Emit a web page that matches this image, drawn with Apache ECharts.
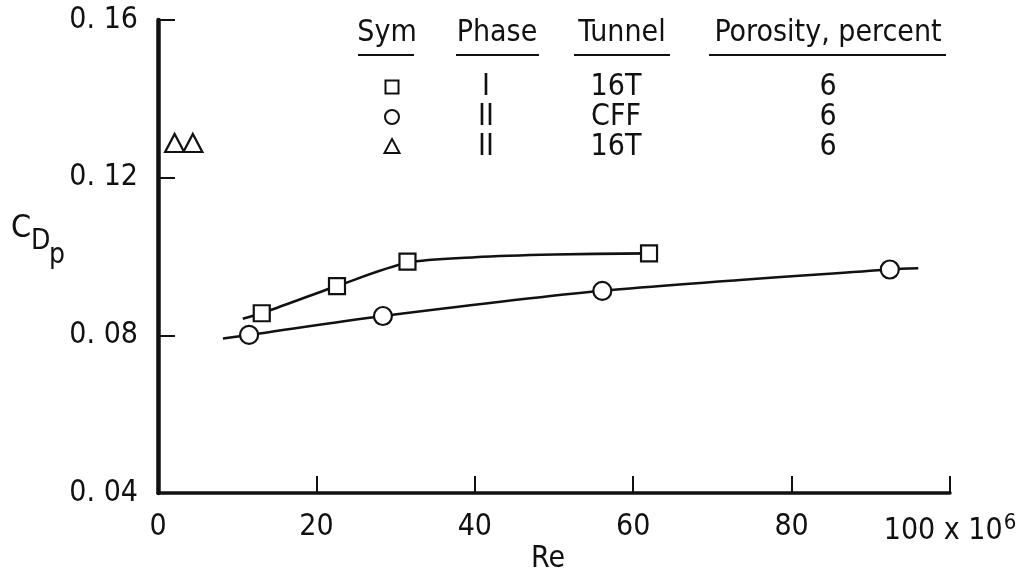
<!DOCTYPE html>
<html>
<head>
<meta charset="utf-8">
<script src="https://cdn.jsdelivr.net/npm/echarts@6/dist/echarts.min.js"></script>
<style>
  html, body { margin: 0; padding: 0; background: #fff; }
  #chart { width: 1029px; height: 580px; }
</style>
</head>
<body>
<div id="chart"></div>
<script>
const FONT = "'DejaVu Sans Condensed', 'Liberation Sans Narrow', 'DejaVu Sans', sans-serif";
const INK = '#111';
const FS = 30;

// Measured points, Re in millions
const phase1TunnelRe = [13.1, 22.6, 31.5, 62.0];       // square: Phase I, 16T
const phase1TunnelCd = [0.0856, 0.0925, 0.0987, 0.1008];
const phase2CffRe = [11.5, 28.4, 56.1, 92.4];          // circle: Phase II, CFF
const phase2CffCd = [0.0801, 0.0849, 0.0913, 0.0967];
const phase2TunnelRe = [2.1, 4.4];                     // triangle: Phase II, 16T
const phase2TunnelCd = [0.1288, 0.1288];

// Faired curves through the data
const fairPhase1Re = [10.7, 13.1, 22.6, 31.5, 40.0, 50.0, 62.0];
const fairPhase1Cd = [0.0842, 0.0856, 0.0925, 0.0984, 0.0998, 0.1005, 0.1008];
const fairCffRe = [8.2, 11.5, 28.4, 56.1, 92.4, 96.0];
const fairCffCd = [0.0792, 0.0801, 0.0849, 0.0913, 0.0967, 0.0970];

// Axis ticks
const xTicks = [0, 20, 40, 60, 80, 100];
const yTicks = [0.04, 0.08, 0.12, 0.16];

// Key table
const keyHeaders = ['Sym', 'Phase', 'Tunnel', 'Porosity, percent'];
const keySymbols = ['square', 'circle', 'triangle'];
const keyPhase = ['I', 'II', 'II'];
const keyTunnel = ['16T', 'CFF', '16T'];
const keyPorosity = ['6', '6', '6'];

const zip = (xs, ys) => xs.map((x, i) => [x, ys[i]]);

const chart = echarts.init(document.getElementById('chart'), null, { renderer: 'canvas' });

const markerStyle = { color: '#fff', borderColor: INK, borderWidth: 2.2, opacity: 1 };

function fairLine(xs, ys) {
  return {
    type: 'line', data: zip(xs, ys), smooth: 0.3, showSymbol: false, z: 2,
    lineStyle: { color: INK, width: 2.6 }, silent: true
  };
}
function points(xs, ys, symbol, size) {
  return {
    type: 'scatter', data: zip(xs, ys), symbol: symbol, symbolSize: size, z: 5,
    itemStyle: markerStyle, emphasis: { disabled: true }, silent: true
  };
}

// Key table graphics
const textStyle = t => ({ text: t, font: FS + 'px ' + FONT, fill: INK, align: 'center', verticalAlign: 'middle' });
const colX = [387, 497, 622, 828];
const underline = [[358, 414], [456, 539], [574, 670], [709, 946]];
const rowY = [87, 117, 147];
const keyGraphics = [];
keyHeaders.forEach((h, i) => {
  keyGraphics.push({ type: 'text', x: colX[i], y: 33, style: textStyle(h) });
  keyGraphics.push({
    type: 'line', shape: { x1: underline[i][0], y1: 55, x2: underline[i][1], y2: 55 },
    style: { stroke: INK, lineWidth: 2.2 }
  });
});
const symX = 392;
const symStyle = { fill: '#fff', stroke: INK, lineWidth: 2 };
keySymbols.forEach((s, r) => {
  const y = rowY[r];
  if (s === 'square') {
    keyGraphics.push({ type: 'rect', shape: { x: symX - 6.5, y: y - 6.5, width: 13, height: 13 }, style: symStyle });
  } else if (s === 'circle') {
    keyGraphics.push({ type: 'circle', shape: { cx: symX, cy: y, r: 7 }, style: symStyle });
  } else {
    keyGraphics.push({ type: 'polygon', shape: { points: [[symX, y - 8], [symX + 7.5, y + 6], [symX - 7.5, y + 6]] }, style: symStyle });
  }
  [[keyPhase[r], 486], [keyTunnel[r], 616], [keyPorosity[r], 828]].forEach(([t, x]) => {
    keyGraphics.push({ type: 'text', x: x, y: y, style: textStyle(t) });
  });
});

// Axis titles
const titleGraphics = [
  { type: 'text', x: 11, y: 213, style: { text: 'C', font: '32px ' + FONT, fill: INK } },
  { type: 'text', x: 31, y: 228, style: { text: 'D', font: '28px ' + FONT, fill: INK } },
  { type: 'text', x: 49, y: 242, style: { text: 'p', font: '28px ' + FONT, fill: INK } },
  { type: 'text', x: 548, y: 559, style: textStyle('Re') }
];

const option = {
  backgroundColor: '#fff',
  animation: false,
  grid: { left: 158, right: 79, top: 20, bottom: 87, containLabel: false },
  xAxis: {
    type: 'value', min: xTicks[0], max: xTicks[xTicks.length - 1], interval: xTicks[1] - xTicks[0],
    axisLine: { show: true, onZero: false, lineStyle: { color: INK, width: 3.5 } },
    axisTick: { show: true, inside: true, length: 17, lineStyle: { color: INK, width: 2 } },
    splitLine: { show: false },
    axisLabel: {
      margin: 19, color: INK, fontFamily: FONT, fontSize: FS,
      formatter: v => v === 100 ? '{n|100 x 10}{s|6}' : String(v),
      rich: {
        n: { fontFamily: FONT, fontSize: FS, color: INK },
        s: { fontFamily: FONT, fontSize: 22, color: INK, padding: [0, 0, 16, 1] }
      }
    }
  },
  yAxis: {
    type: 'value', min: yTicks[0], max: yTicks[yTicks.length - 1], interval: yTicks[1] - yTicks[0],
    axisLine: { show: true, onZero: false, lineStyle: { color: INK, width: 4.5 } },
    axisTick: { show: true, inside: true, length: 17, lineStyle: { color: INK, width: 2 } },
    splitLine: { show: false },
    axisLabel: {
      margin: 20, color: INK, fontFamily: FONT, fontSize: FS,
      formatter: v => v.toFixed(2).replace('0.', '0. ')
    }
  },
  series: [
    fairLine(fairPhase1Re, fairPhase1Cd),
    fairLine(fairCffRe, fairCffCd),
    points(phase1TunnelRe, phase1TunnelCd, 'rect', 16),
    points(phase2CffRe, phase2CffCd, 'circle', 18),
    points(phase2TunnelRe, phase2TunnelCd, 'triangle', [19, 18])
  ],
  graphic: keyGraphics.concat(titleGraphics)
};

chart.setOption(option);
</script>
</body>
</html>
